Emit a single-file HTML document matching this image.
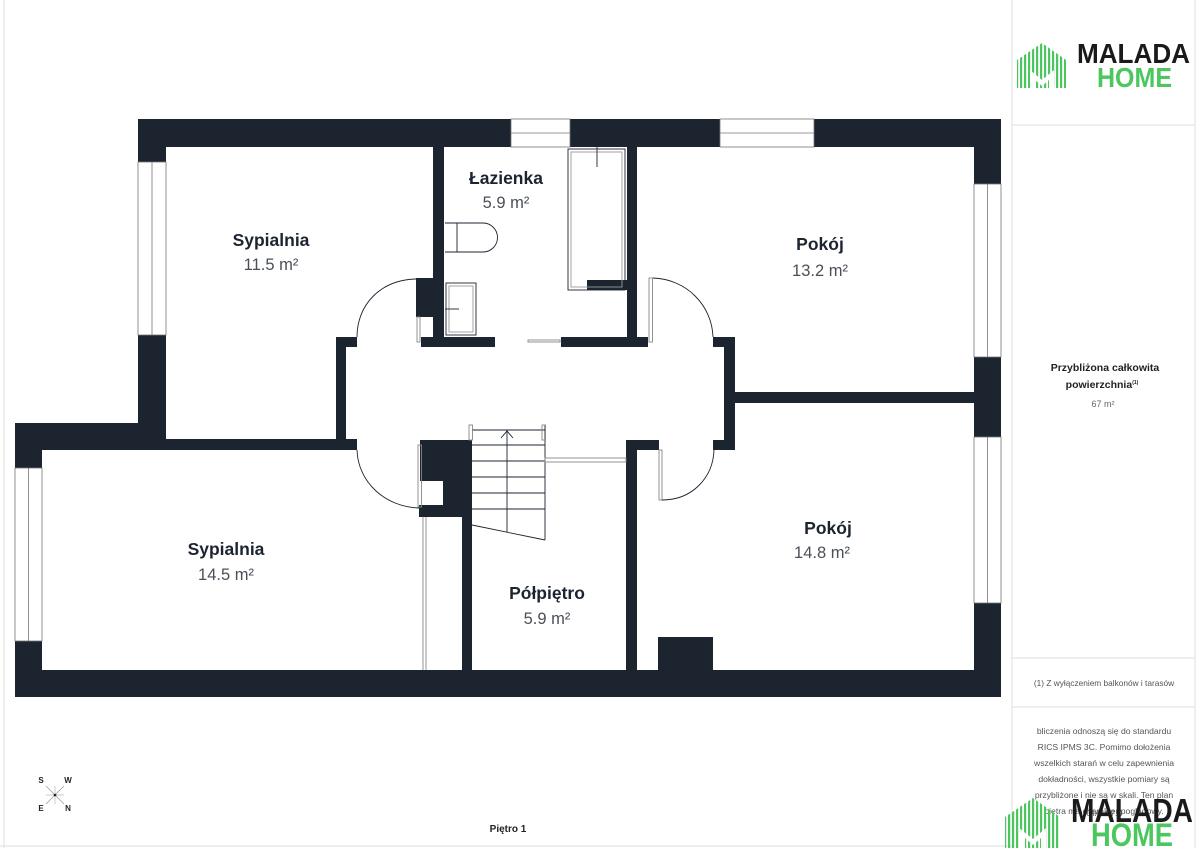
<!DOCTYPE html>
<html><head><meta charset="utf-8"><style>
html,body{margin:0;padding:0;background:#fff;}
svg{display:block;}
text{font-family:"Liberation Sans","DejaVu Sans",sans-serif;}
</style></head><body>
<svg width="1200" height="848" viewBox="0 0 1200 848" xmlns="http://www.w3.org/2000/svg">
<defs>
<pattern id="st" width="4" height="10" patternUnits="userSpaceOnUse"><rect x="0" y="0" width="2.2" height="10" fill="#4cc75f"/></pattern>
</defs>
<rect width="1200" height="848" fill="#fff"/>
<g stroke="#e4e4e4" stroke-width="1.2" fill="none">
<line x1="1012" y1="0" x2="1012" y2="848"/>
<line x1="1195" y1="0" x2="1195" y2="848"/>
<line x1="1012" y1="125" x2="1195" y2="125"/>
<line x1="1012" y1="658" x2="1195" y2="658"/>
<line x1="1012" y1="707" x2="1195" y2="707"/>
<line x1="0" y1="846" x2="1012" y2="846"/>
<line x1="4" y1="0" x2="4" y2="848"/>
</g>

<g fill="#1c2430">
<rect x="138" y="119" width="863" height="28"/>
<rect x="138" y="119" width="28" height="331"/>
<rect x="15" y="423" width="151" height="27"/>
<rect x="15" y="423" width="27" height="274"/>
<rect x="15" y="670" width="986" height="27"/>
<rect x="974" y="119" width="27" height="578"/>
<rect x="166" y="439" width="191" height="11"/>
<rect x="336" y="337" width="10" height="113"/>
<rect x="336" y="337" width="21" height="10"/>
<rect x="433" y="147" width="11" height="200"/>
<rect x="416" y="278" width="28" height="39"/>
<rect x="421" y="337" width="74" height="10"/>
<rect x="561" y="337" width="87" height="10"/>
<rect x="627" y="147" width="10" height="200"/>
<rect x="587" y="280" width="40" height="10"/>
<rect x="713" y="337" width="22" height="10"/>
<rect x="724" y="337" width="11" height="113"/>
<rect x="713" y="440" width="22" height="10"/>
<rect x="735" y="392" width="240" height="11"/>
<rect x="420" y="440" width="52" height="41"/>
<rect x="443" y="440" width="19" height="77"/>
<rect x="419" y="505" width="43" height="12"/>
<rect x="462" y="440" width="10" height="230"/>
<rect x="626" y="440" width="11" height="230"/>
<rect x="626" y="440" width="33" height="10"/>
<rect x="658" y="637" width="55" height="33"/>
</g>

<g fill="#fff" stroke="#777" stroke-width="0.8">
<rect x="511" y="119" width="59" height="28"/><line x1="511" y1="133" x2="570" y2="133"/>
<rect x="720" y="119" width="94" height="28"/><line x1="720" y1="133" x2="814" y2="133"/>
<rect x="138" y="162" width="28" height="173"/><line x1="152" y1="162" x2="152" y2="335"/>
<rect x="15" y="468" width="27" height="173"/><line x1="28.5" y1="468" x2="28.5" y2="641"/>
<rect x="974" y="184" width="27" height="173"/><line x1="987.5" y1="184" x2="987.5" y2="357"/>
<rect x="974" y="437" width="27" height="166"/><line x1="987.5" y1="437" x2="987.5" y2="603"/>
</g>

<g fill="none" stroke="#1c2430" stroke-width="0.9">
<rect x="568" y="149" width="57" height="141"/>
<rect x="571" y="152" width="51" height="135" stroke="#999"/>
<line x1="597" y1="147" x2="597" y2="167"/>
<path d="M445 223 H483 A14.5 14.5 0 0 1 483 252 H445"/>
<line x1="457" y1="223" x2="457" y2="252"/>
<rect x="446" y="283" width="30" height="52"/>
<rect x="449" y="286" width="24" height="46" stroke="#999"/>
<line x1="445" y1="309" x2="459" y2="309"/>
<rect x="528" y="340" width="32" height="2" stroke="#888"/>
<rect x="417" y="317" width="3" height="25" stroke="#888"/>
<path d="M416 279 C380 280 357 305 357 337"/>
<rect x="418" y="445" width="3.5" height="62" stroke="#888"/>
<path d="M357 450 C358 482 385 507 419 508"/>
<rect x="649" y="278" width="3.5" height="64" stroke="#888"/>
<path d="M653 278 C686 279 712 305 713 337"/>
<rect x="659" y="450" width="3" height="50" stroke="#888"/>
<path d="M662 500 C692 500 713 478 714 450"/>
<line x1="423" y1="517" x2="423" y2="670" stroke="#888"/>
<line x1="426" y1="517" x2="426" y2="670" stroke="#888"/>
<line x1="472" y1="430" x2="545" y2="430"/>
<line x1="472" y1="445" x2="545" y2="445"/>
<line x1="472" y1="461" x2="545" y2="461"/>
<line x1="472" y1="477" x2="545" y2="477"/>
<line x1="472" y1="493" x2="545" y2="493"/>
<line x1="472" y1="509" x2="545" y2="509"/>
<line x1="472" y1="525" x2="545" y2="540"/>
<line x1="545" y1="425" x2="545" y2="540"/>
<line x1="507" y1="430" x2="507" y2="532"/>
<path d="M501 438 L507 431 L513 438"/>
<rect x="469" y="425" width="3.5" height="15" stroke="#888"/>
<rect x="542" y="425" width="3.5" height="15" stroke="#888"/>
<rect x="545" y="458" width="81" height="4" stroke="#888"/>
</g>

<g text-anchor="middle">
<text x="271" y="246" font-size="17.5" font-weight="bold" fill="#1c2430">Sypialnia</text>
<text x="271" y="270" font-size="16.5" fill="#4a4f58">11.5 m²</text>
<text x="506" y="184" font-size="17.5" font-weight="bold" fill="#1c2430">Łazienka</text>
<text x="506" y="208" font-size="16.5" fill="#4a4f58">5.9 m²</text>
<text x="820" y="250" font-size="17.5" font-weight="bold" fill="#1c2430">Pokój</text>
<text x="820" y="276" font-size="16.5" fill="#4a4f58">13.2 m²</text>
<text x="226" y="555" font-size="17.5" font-weight="bold" fill="#1c2430">Sypialnia</text>
<text x="226" y="580" font-size="16.5" fill="#4a4f58">14.5 m²</text>
<text x="547" y="599" font-size="17.5" font-weight="bold" fill="#1c2430">Półpiętro</text>
<text x="547" y="624" font-size="16.5" fill="#4a4f58">5.9 m²</text>
<text x="828" y="534" font-size="17.5" font-weight="bold" fill="#1c2430">Pokój</text>
<text x="822" y="558" font-size="16.5" fill="#4a4f58">14.8 m²</text>
</g>

<g stroke="#999" stroke-width="0.7">
<line x1="46" y1="786" x2="64" y2="804"/><line x1="64" y1="786" x2="46" y2="804"/>
<line x1="55" y1="786" x2="55" y2="804" stroke="#bbb"/><line x1="46" y1="795" x2="64" y2="795" stroke="#bbb"/>
</g>
<circle cx="55" cy="795" r="1.3" fill="#222"/>
<g font-size="8" font-weight="bold" fill="#222" text-anchor="middle">
<text x="41" y="783">S</text><text x="68" y="783">W</text>
<text x="41" y="811">E</text><text x="68" y="811">N</text>
</g>
<text x="508" y="832" font-size="10" font-weight="bold" fill="#222" text-anchor="middle">Piętro 1</text>

<g text-anchor="middle">
<text x="1105" y="371" font-size="10.5" font-weight="bold" fill="#222">Przybliżona całkowita</text>
<text x="1102" y="388" font-size="10.5" font-weight="bold" fill="#222">powierzchnia<tspan font-size="5" dy="-4">(1)</tspan></text>
<text x="1103" y="407" font-size="9" fill="#666">67 m²</text>
<text x="1104" y="686" font-size="8.3" fill="#555">(1) Z wyłączeniem balkonów i tarasów</text>
<g font-size="8.6" fill="#555">
<text x="1104" y="734">bliczenia odnoszą się do standardu</text>
<text x="1104" y="750">RICS IPMS 3C. Pomimo dołożenia</text>
<text x="1104" y="766">wszelkich starań w celu zapewnienia</text>
<text x="1104" y="782">dokładności, wszystkie pomiary są</text>
<text x="1104" y="798">przybliżone i nie są w skali. Ten plan</text>
<text x="1104" y="814">piętra ma charakter poglądowy.</text>
<text x="1104" y="816">GIA: 67.0</text>
</g>
</g>

<path d="M1017 60 L1042 43 L1066 60 L1066 88 L1017 88 Z" fill="url(#st)"/>
<path d="M1030 88 L1030 70 L1042 80 L1054 70 L1054 88 L1049 88 L1049 80 L1042 86 L1035 80 L1035 88 Z" fill="#fff"/>
<text x="1077" y="63" font-size="28" font-weight="bold" fill="#1a1a1a" textLength="113" lengthAdjust="spacingAndGlyphs">MALADA</text>
<text x="1097" y="87" font-size="28" font-weight="bold" fill="#4cc75f" textLength="75" lengthAdjust="spacingAndGlyphs">HOME</text>

<path d="M1005 817 L1033 798 L1060 817 L1060 848 L1005 848 Z" fill="url(#st)"/>
<path d="M1019 848 L1019 828 L1033 839 L1046 828 L1046 848 L1041 848 L1041 838 L1033 845 L1025 838 L1025 848 Z" fill="#fff"/>
<text x="1071" y="822" font-size="33" font-weight="bold" fill="#1a1a1a" textLength="122" lengthAdjust="spacingAndGlyphs">MALADA</text>
<text x="1091" y="846" font-size="32" font-weight="bold" fill="#4cc75f" textLength="82" lengthAdjust="spacingAndGlyphs">HOME</text>
</svg>
</body></html>
